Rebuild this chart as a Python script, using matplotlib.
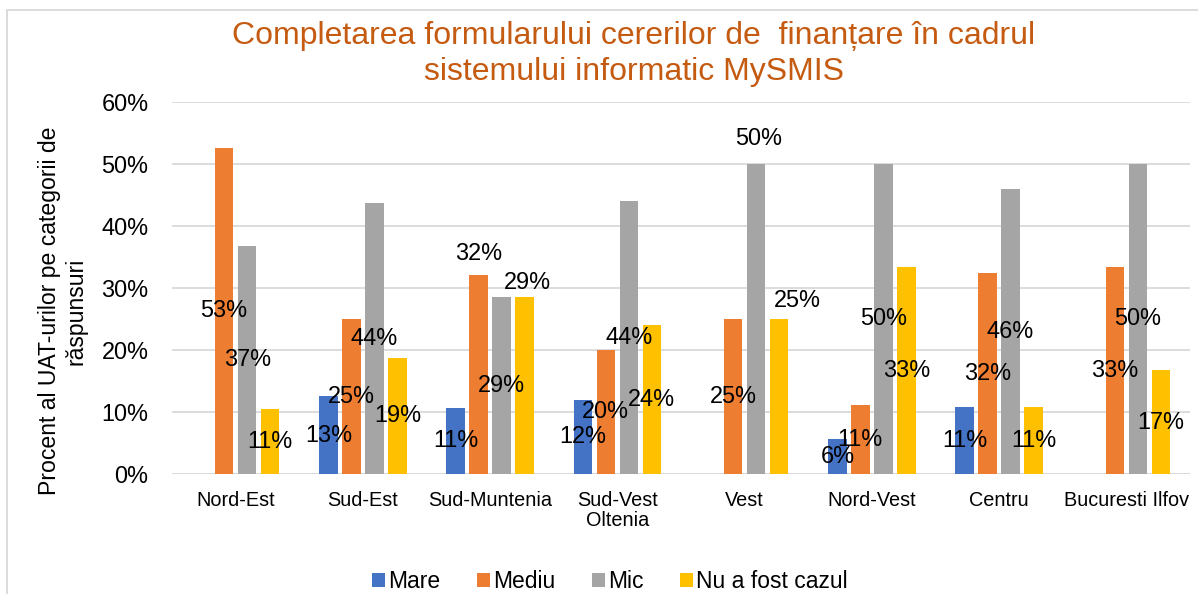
import math
import matplotlib.pyplot as plt
import matplotlib.patches as mpatches
import numpy as np

plt.rcParams['font.family'] = ['Liberation Sans', 'DejaVu Sans']

# regions and answer shares
regions = ["Nord-Est", "Sud-Est", "Sud-Muntenia", "Sud-Vest\nOltenia", "Vest",
           "Nord-Vest", "Centru", "Bucuresti Ilfov"]
series = ["Mare", "Mediu", "Mic", "Nu a fost cazul"]
mare = [0.0, 0.125, 0.107, 0.12, 0.0, 0.056, 0.108, 0.0]
mediu = [0.526, 0.25, 0.321, 0.20, 0.25, 0.111, 0.324, 0.333]
mic = [0.368, 0.4375, 0.286, 0.44, 0.50, 0.50, 0.459, 0.50]
nu_cazul = [0.1053, 0.1875, 0.286, 0.24, 0.25, 0.333, 0.108, 0.167]
colors = ["#4472C4", "#ED7D31", "#A5A5A5", "#FFC000"]

# a few labels were dragged above their bar in the original (pixel offsets from bar top)
label_moves = {(2, 1): (0, 21), (2, 3): (3, 14), (4, 2): (2, 25), (4, 3): (18, 18)}

fig = plt.figure(figsize=(11.98, 5.94), dpi=100)
ax = fig.add_axes([0.1436, 0.202, 0.8497, 0.6268])

x = np.arange(len(regions))
w = 0.145
step = 0.181
values = [mare, mediu, mic, nu_cazul]
for j, (vals, col, name) in enumerate(zip(values, colors, series)):
    pos = x + (j - 1.5) * step
    ax.bar(pos, vals, width=w, color=col, label=name, zorder=3)
    for i, v in enumerate(vals):
        if v <= 0:
            continue
        txt = f"{math.floor(v * 100 + 0.5)}%"
        if (i, j) in label_moves:
            dx, dy = label_moves[(i, j)]
            ax.annotate(txt, xy=(pos[i], v), xytext=(dx, dy), textcoords='offset pixels',
                        ha='center', va='center', fontsize=16.9, zorder=4)
        else:
            ax.text(pos[i], v / 2, txt, ha='center', va='center', fontsize=16.9, zorder=4)

ax.set_xlim(-0.5, len(regions) - 0.5)
ax.set_ylim(0, 0.6)
ax.set_yticks(np.arange(0, 0.61, 0.1))
ax.set_yticklabels([f"{int(round(t * 100))}%" for t in np.arange(0, 0.61, 0.1)], fontsize=16.9)
ax.set_xticks(x)
ax.set_xticklabels(regions, fontsize=14.3, linespacing=1.1)
ax.tick_params(axis='both', length=0)
ax.tick_params(axis='y', pad=17)
ax.tick_params(axis='x', pad=12)
ax.grid(axis='y', color='#D9D9D9', linewidth=1.3, zorder=0)
for s in ax.spines.values():
    s.set_visible(False)
ax.axhline(0, color='#D9D9D9', linewidth=1.3, zorder=2)

fig.text(63 / 1198, 1 - 311 / 594, "Procent al UAT-urilor pe categorii de\nrăspunsuri",
         rotation=90, ha='center', va='center', multialignment='center',
         fontsize=16.6, linespacing=1.2)

fig.text(634 / 1198, 1 - 54 / 594,
         "Completarea formularului cererilor de  finanțare în cadrul\nsistemului informatic MySMIS",
         ha='center', va='center', fontsize=23, color='#C55A11', linespacing=1.28)

fig.legend(loc='center', bbox_to_anchor=(610 / 1198, 1 - 582 / 594), ncol=4, frameon=False,
           fontsize=16.5, handlelength=0.55, handleheight=0.55, handletextpad=0.15,
           columnspacing=1.6, borderaxespad=0)

# chart frame (cut by the image edges on the right and bottom)
fig.patches.append(mpatches.Rectangle((7 / 1198, -0.1), 1.2, 1 - 10 / 594 + 0.1,
                                      transform=fig.transFigure, fill=False,
                                      edgecolor='#D9D9D9', linewidth=1.3))

fig.savefig("out.png", dpi=100)
